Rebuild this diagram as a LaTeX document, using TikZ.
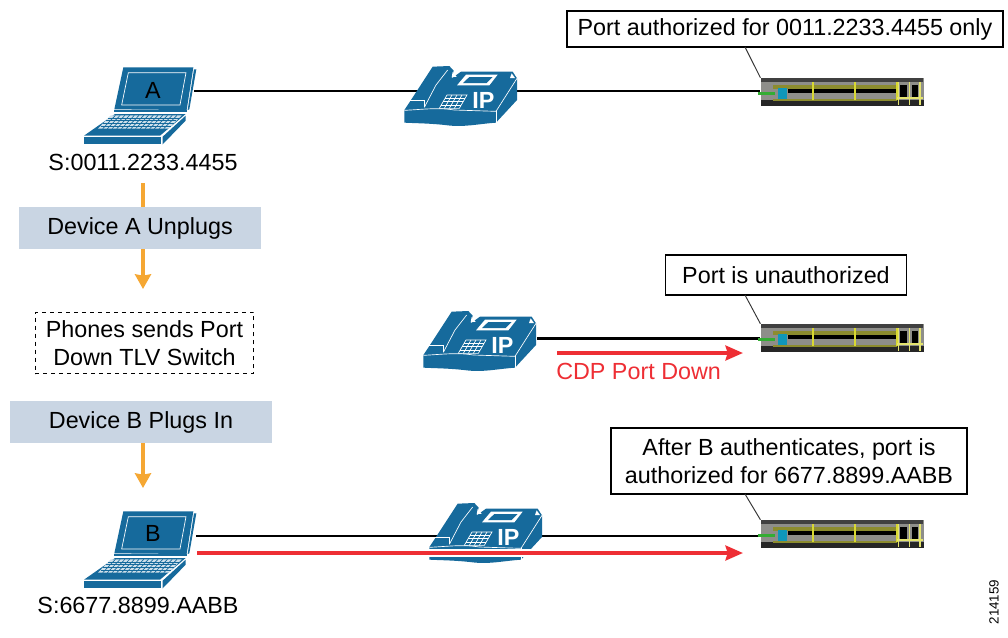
\documentclass[tikz,border=0pt]{standalone}
\usepackage{fontspec}
\setmainfont{Liberation Sans}
\usetikzlibrary{arrows.meta}
\definecolor{ciscoblue}{HTML}{166A9C}
\definecolor{paleblue}{HTML}{C9D5E3}
\definecolor{flowred}{HTML}{EE2E34}
\definecolor{floworange}{HTML}{F5A733}
\definecolor{swgray}{HTML}{8E8E8A}
\definecolor{swolive}{HTML}{8C8C2E}
\definecolor{swyellow}{HTML}{D8D832}
\tikzset{
  x=0.75pt, y=-0.75pt,
  label/.style={font=\fontsize{17.5}{21}\selectfont, inner sep=0pt, align=center},
  textbox/.style={label, draw=black, line width=0.8pt, fill=white},
  graybox/.style={label, fill=paleblue},
  dashbox/.style={label, draw=black, dashed, line width=0.7pt},
  laptopbox/.style={minimum width=84pt, minimum height=58pt, inner sep=0pt},
  phonebox/.style={minimum width=85pt, minimum height=45pt, inner sep=0pt},
  switchbox/.style={minimum width=122pt, minimum height=21pt, inner sep=0pt},
  wire/.style={draw=black, line width=1.6pt},
  tick/.style={draw=black!80, line width=0.7pt},
  redflow/.style={draw=flowred, line width=3pt, -{Stealth[length=13pt,width=11pt,inset=1.5pt]}},
  orangeflow/.style={draw=floworange, line width=3.6pt, -{Stealth[length=11pt,width=12pt,inset=1pt]}},
  laptop/.pic={
    \begin{scope}[scale=1/3, shift={(-210,-168)}]
    \fill[ciscoblue] (160,52) -- (370,52) -- (350,180) -- (133,178) -- cycle;
    \fill[ciscoblue] (372,58) -- (379,58) -- (358,178) -- (353,180) -- cycle;
    \draw[white, line width=0.5pt] (175,68) -- (348,68) -- (330,165) -- (155,165) -- cycle;
    \draw[ciscoblue, line width=0.8pt] (133,183) -- (350,183);
    \fill[ciscoblue] (135,192) -- (347,192) -- (270,257) -- (42,257) -- cycle;
    \fill[ciscoblue] (42,261) -- (274,261) -- (274,283) -- (42,283) -- cycle;
    \fill[ciscoblue] (278,260) -- (347,197) -- (347,212) -- (278,283) -- cycle;
    \fill[white!80!ciscoblue] (122,196) -- (335,196) -- (296,236) -- (84,236) -- cycle;
    \foreach \i in {1,...,4}
      \draw[ciscoblue, line width=0.5pt] ({122-\i*7.6},{196+\i*8}) -- ({335-\i*7.8},{196+\i*8});
    \foreach \i in {1,...,14}
      \draw[ciscoblue, line width=0.5pt] ({122+\i*14.2},196) -- ({84+\i*14.1},236);
    \end{scope}
  },
  phone/.pic={
    \begin{scope}[scale=1/3, shift={(-200,-135)}]
    \fill[ciscoblue] (50,150) -- (115,50) -- (165,48) -- (178,62) -- (172,85) -- (200,65) -- (355,65) -- (368,85) -- (368,150) -- (305,218)
      .. controls (250,222) and (210,232) .. (160,226) .. controls (110,220) and (70,220) .. (30,218) -- (30,180) -- cycle;
    \draw[white, line width=0.5pt] (30,181) .. controls (90,178) and (130,172) .. (180,180) -- (305,184) -- (368,85);
    \draw[white, line width=0.5pt] (305,184) -- (305,218);
    \draw[white, line width=0.5pt] (160,60) -- (125,105) -- (90,172);
    \draw[white, line width=0.5pt] (45,150) -- (90,150) -- (90,172);
    \fill[white] (215,74) -- (310,74) -- (285,106) -- (188,106) -- cycle;
    \fill[ciscoblue] (225,81) -- (295,81) -- (277,99) -- (206,99) -- cycle;
    \fill[white] (175,66) -- (187,80) -- (172,82) -- cycle;
    \fill[white] (352,70) -- (362,84) -- (347,84) -- cycle;
    \draw[white, line width=0.5pt] (158,135) -- (218,135) -- (195,175) -- (135,175) -- cycle;
    \foreach \i in {1,2,3}
      \draw[white, line width=0.5pt] ({158-\i*5.7},{135+\i*10}) -- ({218-\i*5.7},{135+\i*10});
    \foreach \i in {1,2,3}
      \draw[white, line width=0.5pt] ({158+\i*15},135) -- ({135+\i*15},175);
    \node[white, font=\fontsize{17.5}{20}\bfseries\selectfont, inner sep=0pt] at (267,150) {IP};
    \end{scope}
  },
  switch/.pic={
    \begin{scope}[scale=1/3, shift={(-306,-156)}]
    \fill[swgray] (62,115) rectangle (552,197);
    \fill[black!75] (62,115) rectangle (550,126);
    \fill[swolive] (100,135) rectangle (470,146);
    \fill[black] (145,148) rectangle (470,158);
    \fill[black!85] (62,180) rectangle (552,197);
    \fill[swolive] (100,176) rectangle (470,182);
    \fill[black] (480,135) rectangle (500,175);
    \fill[black] (515,135) rectangle (535,175);
    \foreach \px in {218,345,470}
      \fill[swyellow] (\px-3,126) rectangle (\px+3,180);
    \foreach \px in {475,508,540}
      \fill[swyellow!70!white] (\px-2,126) rectangle (\px+2,195);
    \fill[swyellow!70!white] (470,172) rectangle (548,178);
    \fill[ciscoblue!70!cyan] (114,143) rectangle (140,176);
    \fill[green!60!black!80!white] (55,157) rectangle (105,164);
    \end{scope}
  }
}
\begin{document}
\begin{tikzpicture}
\useasboundingbox (0,0) rectangle (1008,637);
\node[laptopbox] (laptopA) at (140,106) {};
\node[laptopbox] (laptopB) at (140,550) {};
\node[phonebox] (phoneA) at (461,95) {};
\node[phonebox] (phoneB) at (480,340) {};
\node[phonebox] (phoneC) at (486,532) {};
\node[switchbox] (switchA) at (842,92) {};
\node[switchbox] (switchB) at (842,338) {};
\node[switchbox] (switchC) at (842,534) {};

\coordinate (wireA) at (194,91);
\coordinate (wireB) at (537,338.5);
\coordinate (wireC) at (196,536);
\draw[wire] (wireA) -- (wireA -| switchA.west);
\draw[wire] (wireB) -- (wireB -| switchB.west);
\draw[wire] (wireC) -- (wireC -| switchC.west);

\pic at (laptopA) {laptop};
\pic at (laptopB) {laptop};
\pic at (phoneA) {phone};
\pic at (phoneB) {phone};
\pic at (phoneC) {phone};
\pic at (switchA) {switch};
\pic at (switchB) {switch};
\pic at (switchC) {switch};

\node[label] (nameA) at (153,90) {A};
\node[label] (nameB) at (153,533) {B};
\node[label] (macA) at (143,162) {S:0011.2233.4455};
\node[label] (macB) at (138,605) {S:6677.8899.AABB};

\node[graybox, minimum width=181pt, minimum height=31.5pt] (unplug) at (140,228) {Device A Unplugs};
\node[dashbox, minimum width=164pt, minimum height=46pt] (tlv) at (144.5,343) {Phones sends Port\\Down TLV Switch};
\node[graybox, minimum width=196pt, minimum height=31.5pt] (plug) at (141,422) {Device B Plugs In};

\coordinate (flowtopA) at (143,183);
\coordinate (flowendA) at (143,289);
\coordinate (flowtopB) at (143,443);
\coordinate (flowendB) at (143,488);
\begin{scope}[on background layer/.style={}]
\end{scope}
\fill[white] (0,0) rectangle (0,0);
\draw[orangeflow, -] (flowtopA) -- (unplug.north -| flowtopA);
\draw[orangeflow] (unplug.south -| flowendA) -- (flowendA);
\draw[orangeflow] (flowtopB) -- (flowendB);

\node[textbox, minimum width=327pt, minimum height=27pt] (authA) at (785,29) {Port authorized for 0011.2233.4455 only};
\node[textbox, minimum width=181pt, minimum height=30pt] (authB) at (786,275) {Port is unauthorized};
\node[textbox, minimum width=267pt, minimum height=49.5pt] (authC) at (789,461) {After B authenticates, port is\\authorized for 6677.8899.AABB};

\coordinate (tickA) at (745,47);
\coordinate (tickB) at (745,295);
\coordinate (tickC) at (745,494);
\draw[tick] (tickA) -- (switchA.north west);
\draw[tick] (tickB) -- (switchB.north west);
\draw[tick] (tickC) -- (switchC.north west);

\coordinate (redstartB) at (557,353);
\coordinate (redendB) at (743,353);
\coordinate (redstartC) at (197,553);
\coordinate (redendC) at (743,553);
\draw[redflow] (redstartB) -- (redendB);
\draw[redflow, preaction={draw=white, line width=6pt, arrows=-}] (redstartC) -- (redendC);
\node[label, text=flowred, anchor=west] (cdp) at (556,371) {CDP Port Down};
\node[font=\fontsize{10}{12}\selectfont, rotate=90, inner sep=0pt] (figid) at (994,602) {214159};
\end{tikzpicture}
\end{document}
